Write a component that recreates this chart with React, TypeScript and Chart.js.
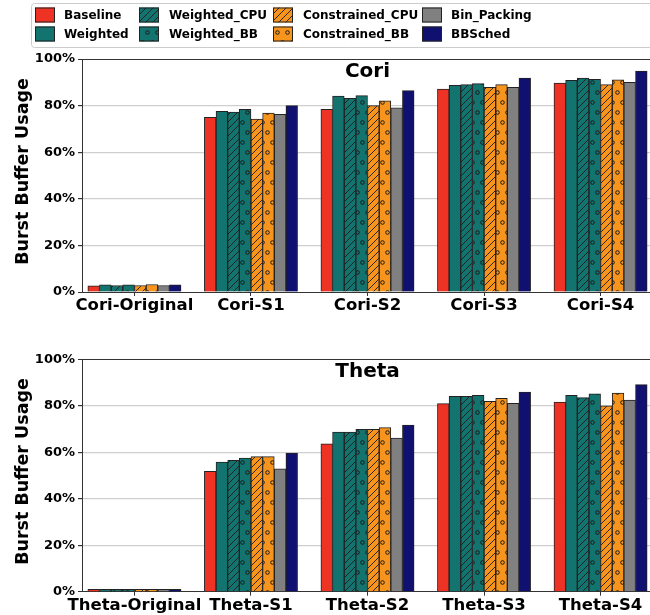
import React, { useEffect, useRef } from 'react';
import { Chart, registerables } from 'chart.js';
Chart.register(...registerables);

const FONT = '"DejaVu Sans", "Liberation Sans", sans-serif';

const SERIES = ['Baseline', 'Weighted', 'Weighted_CPU', 'Weighted_BB', 'Constrained_CPU', 'Constrained_BB', 'Bin_Packing', 'BBSched'];
const CORI_CATS = ['Cori-Original', 'Cori-S1', 'Cori-S2', 'Cori-S3', 'Cori-S4'];
const THETA_CATS = ['Theta-Original', 'Theta-S1', 'Theta-S2', 'Theta-S3', 'Theta-S4'];
const Y_TICKS = [0, 20, 40, 60, 80, 100];

// Cori (%)
const coriBaseline = [2.7, 75.0, 78.4, 87.1, 89.7];
const coriWeighted = [3.1, 77.5, 84.1, 88.7, 90.8];
const coriWeightedCPU = [2.8, 77.2, 83.1, 89.0, 91.8];
const coriWeightedBB = [3.1, 78.4, 84.3, 89.4, 91.3];
const coriConstrainedCPU = [2.8, 74.2, 80.0, 87.8, 89.0];
const coriConstrainedBB = [3.2, 76.8, 82.0, 89.0, 91.1];
const coriBinPacking = [2.8, 76.2, 79.0, 87.8, 90.0];
const coriBBSched = [3.1, 80.0, 86.4, 91.8, 94.8];

// Theta (%)
const thetaBaseline = [1.0, 51.8, 63.6, 80.9, 81.6];
const thetaWeighted = [1.0, 55.8, 68.7, 84.1, 84.5];
const thetaWeightedCPU = [1.0, 56.5, 68.7, 84.1, 83.5];
const thetaWeightedBB = [1.0, 57.5, 69.9, 84.5, 85.1];
const thetaConstrainedCPU = [1.0, 58.1, 69.9, 81.9, 80.0];
const thetaConstrainedBB = [1.0, 58.1, 70.6, 83.2, 85.5];
const thetaBinPacking = [1.0, 52.9, 66.1, 81.1, 82.4];
const thetaBBSched = [1.0, 59.7, 71.7, 85.9, 89.1];

const CORI_VALUES = [coriBaseline, coriWeighted, coriWeightedCPU, coriWeightedBB, coriConstrainedCPU, coriConstrainedBB, coriBinPacking, coriBBSched];
const THETA_VALUES = [thetaBaseline, thetaWeighted, thetaWeightedCPU, thetaWeightedBB, thetaConstrainedCPU, thetaConstrainedBB, thetaBinPacking, thetaBBSched];

const RED = '#ee3224';
const TEAL = '#13736e';
const ORANGE = '#f7941d';
const GRAY = '#808080';
const NAVY = '#101070';
const EDGE = '#222222';

function makeHatch(bg: string): CanvasPattern {
  const s = 7;
  const c = document.createElement('canvas');
  c.width = s; c.height = s;
  const g = c.getContext('2d')!;
  g.fillStyle = bg; g.fillRect(0, 0, s, s);
  g.strokeStyle = '#1a1a1a'; g.lineWidth = 0.9;
  g.beginPath();
  g.moveTo(0, s); g.lineTo(s, 0);
  g.moveTo(-1, 1); g.lineTo(1, -1);
  g.moveTo(s - 1, s + 1); g.lineTo(s + 1, s - 1);
  g.stroke();
  return g.createPattern(c, 'repeat')!;
}

function makeDots(bg: string): CanvasPattern {
  const s = 20;
  const c = document.createElement('canvas');
  c.width = s; c.height = s;
  const g = c.getContext('2d')!;
  g.fillStyle = bg; g.fillRect(0, 0, s, s);
  g.strokeStyle = '#1a1a1a'; g.lineWidth = 1;
  const pts = [[2.5, 2.5], [12.5, 2.5], [7.5, 12.5], [17.5, 12.5]];
  for (const [x, y] of pts) {
    g.beginPath(); g.arc(x, y, 1.8, 0, Math.PI * 2); g.stroke();
  }
  return g.createPattern(c, 'repeat')!;
}

function makeFills(): (string | CanvasPattern)[] {
  return [RED, TEAL, makeHatch(TEAL), makeDots(TEAL), makeHatch(ORANGE), makeDots(ORANGE), GRAY, NAVY];
}

function buildChart(canvas: HTMLCanvasElement, cats: string[], values: number[][], title: string, topPad: number, xH: number, withLegend: boolean) {
  const fills = makeFills();
  const plugins: any[] = [
    {
      id: 'decor',
      afterDraw(chart: any) {
        const ctx = chart.ctx;
        const a = chart.chartArea;
        ctx.save();
        ctx.fillStyle = '#000';
        ctx.font = `bold 20px ${FONT}`;
        ctx.textAlign = 'center';
        ctx.textBaseline = 'alphabetic';
        ctx.fillText(title, (a.left + a.right) / 2, a.top + 18);
        ctx.translate(23, (a.top + a.bottom) / 2 - 4);
        ctx.rotate(-Math.PI / 2);
        ctx.font = `bold 17.5px ${FONT}`;
        ctx.textBaseline = 'middle';
        ctx.fillText('Burst Buffer Usage', 0, 0);
        ctx.restore();

        if (withLegend) {
          ctx.save();
          ctx.fillStyle = 'rgba(255,255,255,0.8)';
          ctx.strokeStyle = '#cccccc';
          ctx.lineWidth = 1;
          ctx.beginPath();
          (ctx as any).roundRect(31.5, 3.5, 640, 44, 3);
          ctx.fill(); ctx.stroke();
          const swX = [35, 139, 273, 422];
          const txX = [64, 169, 303, 451];
          const rowY = [15, 34];
          ctx.font = `bold 12px ${FONT}`;
          ctx.textAlign = 'left';
          ctx.textBaseline = 'middle';
          SERIES.forEach((name, i) => {
            const col = Math.floor(i / 2), row = i % 2;
            const y = rowY[row];
            ctx.fillStyle = fills[i] as any;
            ctx.fillRect(swX[col], y - 7.5, 20, 15);
            ctx.strokeStyle = EDGE;
            ctx.strokeRect(swX[col] + 0.5, y - 7.5 + 0.5, 19, 14);
            ctx.fillStyle = '#000';
            ctx.fillText(name, txX[col], y + 0.5);
          });
          ctx.restore();
        }
      },
    },
  ];

  return new Chart(canvas, {
    type: 'bar',
    data: {
      datasets: SERIES.map((name, i) => ({
        label: name,
        data: values[i].map((v, j) => ({ x: j, y: v })),
        backgroundColor: fills[i] as any,
        borderColor: EDGE,
        borderWidth: 1,
        barThickness: 11.65,
      })),
    },
    options: {
      responsive: false,
      maintainAspectRatio: false,
      animation: false,
      layout: { padding: { top: topPad, right: 7, left: 0, bottom: 0 } },
      plugins: { legend: { display: false }, tooltip: { enabled: false }, title: { display: false } },
      scales: {
        x: {
          type: 'linear',
          min: -0.45,
          max: 4.45,
          offset: false,
          afterBuildTicks: (s: any) => { s.ticks = cats.map((_, i) => ({ value: i })); },
          afterFit: (s: any) => { s.height = xH; },
          ticks: {
            callback: (v: any) => cats[v] ?? '',
            autoSkip: false,
            maxRotation: 0,
            minRotation: 0,
            color: '#000',
            padding: 0,
            font: { family: FONT, weight: 'bold', size: 16.5 },
          },
          grid: { offset: false, drawOnChartArea: false, drawTicks: true, tickLength: 4, tickColor: '#333' },
          border: { display: true, color: '#333', width: 1 },
        },
        y: {
          min: 0,
          max: 100,
          afterBuildTicks: (s: any) => { s.ticks = Y_TICKS.map((v) => ({ value: v })); },
          afterFit: (s: any) => { s.width = 82; },
          ticks: {
            callback: (v: any) => `${v}%`,
            color: '#000',
            padding: 3,
            font: { family: FONT, weight: 'bold', size: 13 },
          },
          grid: {
            color: (c: any) => (c.tick && (c.tick.value === 100 || c.tick.value === 0) ? '#333' : '#cfcfcf'),
            lineWidth: (c: any) => (c.tick && (c.tick.value === 100 || c.tick.value === 0) ? 1 : 1.2),
            tickLength: 4,
            tickColor: '#333',
          },
          border: { display: true, color: '#333', width: 1 },
        },
      },
    } as any,
    plugins,
  });
}

export default function App() {
  const topRef = useRef<HTMLCanvasElement>(null);
  const botRef = useRef<HTMLCanvasElement>(null);
  useEffect(() => {
    const c1 = buildChart(topRef.current!, CORI_CATS, CORI_VALUES, 'Cori', 59, 28, true);
    const c2 = buildChart(botRef.current!, THETA_CATS, THETA_VALUES, 'Theta', 39.3, 23.3, false);
    return () => { c1.destroy(); c2.destroy(); };
  }, []);
  return (
    <div style={{ position: 'absolute', left: 0, top: 0, width: 650, height: 615, overflow: 'hidden', background: '#fff' }}>
      <canvas ref={topRef} width={660} height={320} style={{ position: 'absolute', left: 0, top: 0, width: 660, height: 320 }} />
      <canvas ref={botRef} width={660} height={295} style={{ position: 'absolute', left: 0, top: 320, width: 660, height: 295 }} />
    </div>
  );
}
